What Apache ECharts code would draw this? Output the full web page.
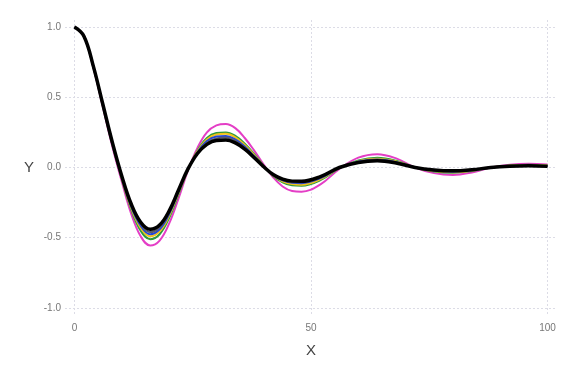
<!DOCTYPE html>
<html>
<head>
<meta charset="utf-8">
<script src="https://cdn.jsdelivr.net/npm/echarts@6/dist/echarts.min.js"></script>
<style>
html, body { margin: 0; padding: 0; background: #fff; }
#chart { width: 576px; height: 384px; }
</style>
</head>
<body>
<div id="chart"></div>
<script>
// x positions shared by every curve
var xs = [0, 2, 4, 6, 8, 10, 12, 14, 16, 18, 20, 22, 24, 26, 28, 30, 32, 34, 36, 38, 40, 42, 44, 46, 48,
          52, 56, 60, 64, 68, 72, 76, 80, 84, 88, 92, 96, 100];

// curves (outermost first)
var magentaY = [1.00, 0.935, 0.71, 0.43, 0.15, -0.10, -0.33, -0.49, -0.555, -0.52, -0.40, -0.22, -0.02, 0.14, 0.25, 0.30, 0.31, 0.28, 0.21, 0.12, 0.02, -0.07, -0.135, -0.167, -0.172,
                -0.12, -0.01, 0.07, 0.095, 0.065, 0.0, -0.04, -0.053, -0.035, 0.0, 0.02, 0.027, 0.022];
var greenY = [1.00, 0.935, 0.715, 0.44, 0.165, -0.08, -0.30, -0.45, -0.51, -0.475, -0.36, -0.19, -0.015, 0.12, 0.21, 0.245, 0.25, 0.225, 0.17, 0.095, 0.012, -0.06, -0.105, -0.127, -0.13,
              -0.09, -0.005, 0.05, 0.07, 0.048, 0.0, -0.028, -0.037, -0.025, 0.0, 0.014, 0.02, 0.015];
var yellowY = [1.00, 0.935, 0.717, 0.443, 0.17, -0.075, -0.29, -0.43, -0.49, -0.455, -0.345, -0.18, -0.013, 0.115, 0.20, 0.235, 0.24, 0.215, 0.16, 0.088, 0.01, -0.057, -0.098, -0.118, -0.122,
               -0.083, -0.003, 0.045, 0.062, 0.043, 0.0, -0.025, -0.033, -0.022, 0.0, 0.012, 0.017, 0.012];
var blueY = [1.00, 0.935, 0.718, 0.445, 0.173, -0.07, -0.28, -0.415, -0.475, -0.44, -0.333, -0.173, -0.012, 0.108, 0.188, 0.22, 0.225, 0.20, 0.15, 0.08, 0.008, -0.054, -0.092, -0.109, -0.112,
             -0.076, -0.002, 0.042, 0.057, 0.039, 0.0, -0.022, -0.03, -0.02, 0.0, 0.011, 0.015, 0.011];
var grayY = [1.00, 0.935, 0.719, 0.448, 0.176, -0.065, -0.27, -0.40, -0.46, -0.425, -0.322, -0.167, -0.011, 0.104, 0.176, 0.207, 0.213, 0.19, 0.14, 0.075, 0.006, -0.052, -0.088, -0.103, -0.105,
             -0.07, -0.001, 0.039, 0.053, 0.036, 0.0, -0.02, -0.027, -0.018, 0.0, 0.01, 0.013, 0.01];
var blackY = [1.00, 0.935, 0.72, 0.45, 0.18, -0.06, -0.26, -0.39, -0.44, -0.41, -0.31, -0.16, -0.01, 0.10, 0.165, 0.193, 0.195, 0.175, 0.13, 0.07, 0.005, -0.05, -0.083, -0.097, -0.098,
              -0.065, 0.0, 0.036, 0.048, 0.032, 0.0, -0.018, -0.024, -0.016, 0.0, 0.009, 0.012, 0.008];

var xTicks = [0, 50, 100];
var yTicks = [-1.0, -0.5, 0.0, 0.5, 1.0];

function pairs(ys) {
	var out = [];
	for (var i = 0; i < xs.length; i++) {
		out.push([xs[i], ys[i]]);
	}
	return out;
}

function curve(name, ys, color, width) {
	return {
		name : name,
		type : 'line',
		data : pairs(ys),
		smooth : 0.4,
		showSymbol : false,
		symbol : 'none',
		lineStyle : { color : color, width : width },
		emphasis : { disabled : true }
	};
}

var gridLine = { show : true, lineStyle : { color : '#dcdce6', type : [2, 2], width : 1 } };
var labelFont = { color : '#777', fontSize : 10, fontFamily : 'Liberation Sans, Arial, sans-serif' };

var option = {
	animation : false,
	backgroundColor : '#fff',
	grid : { left : 65, right : 19, top : 20, bottom : 69 },
	xAxis : {
		type : 'value',
		min : -2,
		max : 102,
		name : 'X',
		nameLocation : 'middle',
		nameGap : 28,
		nameTextStyle : { color : '#444', fontSize : 15, fontFamily : 'Liberation Sans, Arial, sans-serif' },
		axisLine : { show : false },
		axisTick : { show : false, customValues : xTicks },
		axisLabel : Object.assign({ customValues : xTicks, margin : 8, formatter : function (v) { return String(v); } }, labelFont),
		splitLine : gridLine
	},
	yAxis : {
		type : 'value',
		min : -1.05,
		max : 1.05,
		name : 'Y',
		nameLocation : 'middle',
		nameRotate : 0,
		nameGap : 31,
		nameTextStyle : { color : '#444', fontSize : 15, fontFamily : 'Liberation Sans, Arial, sans-serif' },
		axisLine : { show : false },
		axisTick : { show : false, customValues : yTicks },
		axisLabel : Object.assign({ customValues : yTicks, margin : 4, formatter : function (v) { return v.toFixed(1); } }, labelFont),
		splitLine : gridLine
	},
	series : [
		curve('magenta', magentaY, '#e43ec6', 2),
		curve('green', greenY, '#2f9a3c', 2),
		curve('yellow', yellowY, '#f2c21a', 2),
		curve('blue', blueY, '#2446d6', 2),
		curve('gray', grayY, '#5a5a6a', 2),
		curve('black', blackY, '#000000', 3.5)
	]
};

var myChart = echarts.init(document.getElementById('chart'));
myChart.setOption(option);
</script>
</body>
</html>
